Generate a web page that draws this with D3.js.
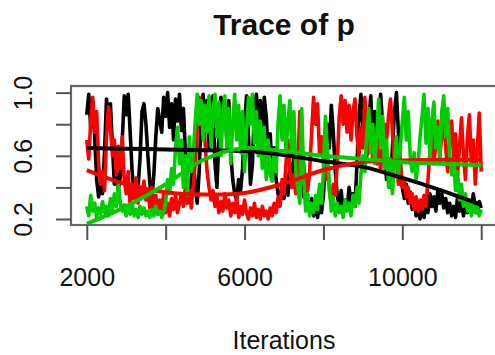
<!DOCTYPE html>
<html>
<head>
<meta charset="utf-8">
<script src="https://cdn.jsdelivr.net/npm/d3@7"></script>
<style>
  body { margin: 0; background: #fff; }
  text { font-family: "Liberation Sans", Arial, Helvetica, sans-serif; fill: #111; }
</style>
</head>
<body>
<div id="chart"></div>
<script>
'use strict';

// chain draws, one value every 50 iterations from 2000 to 12000
var iterStart = 2000;
var iterStep = 50;

var chainBlack = [
  0.86,0.99,0.78,0.95,0.72,0.45,0.34,0.42,0.36,0.62,0.96,0.84,0.93,0.66,0.42,0.52,0.38,0.47,0.70,0.98,
  0.86,0.99,0.75,0.50,0.36,0.45,0.40,0.58,0.88,0.93,0.80,0.60,0.42,0.33,0.48,0.72,0.90,0.82,0.75,0.97,
  0.85,1.00,0.78,0.93,0.70,0.96,0.82,0.99,0.76,0.90,0.62,0.40,0.32,0.45,0.58,0.42,0.30,0.50,0.85,0.99,
  0.78,0.95,0.65,0.88,0.98,0.55,0.40,0.72,0.97,0.80,0.93,0.70,0.95,0.62,0.45,0.36,0.32,0.45,0.38,0.52,
  0.80,0.98,0.72,0.42,0.55,0.90,0.99,0.82,0.95,0.70,0.97,0.85,0.60,0.74,0.50,0.65,0.45,0.36,0.30,0.42,
  0.33,0.48,0.35,0.55,0.40,0.62,0.50,0.38,0.60,0.45,0.34,0.42,0.30,0.25,0.33,0.22,0.28,0.21,0.30,0.24,
  0.35,0.55,0.80,0.65,0.92,0.75,0.50,0.35,0.28,0.38,0.24,0.32,0.26,0.40,0.30,0.36,0.28,0.55,0.85,0.99,
  0.78,0.92,0.60,0.82,0.98,0.70,0.88,0.55,0.75,0.99,0.80,0.62,0.45,0.58,0.40,0.65,0.88,1.00,0.75,0.55,
  0.40,0.33,0.42,0.30,0.37,0.26,0.33,0.22,0.28,0.20,0.26,0.21,0.30,0.24,0.36,0.28,0.34,0.25,0.38,0.30,
  0.36,0.27,0.33,0.24,0.30,0.22,0.28,0.21,0.34,0.25,0.31,0.22,0.29,0.24,0.32,0.26,0.36,0.28,0.24,0.31,0.27
];

var chainRed = [
  0.70,0.58,0.82,0.97,0.75,0.88,0.55,0.42,0.50,0.38,0.72,0.91,0.78,0.60,0.70,0.48,0.66,0.52,0.72,0.44,
  0.36,0.50,0.28,0.42,0.33,0.46,0.30,0.40,0.34,0.44,0.32,0.38,0.27,0.40,0.25,0.35,0.23,0.32,0.26,0.36,
  0.24,0.30,0.22,0.33,0.26,0.35,0.24,0.30,0.36,0.28,0.40,0.30,0.38,0.27,0.42,0.55,0.75,0.97,0.80,0.92,
  0.68,0.50,0.40,0.32,0.38,0.28,0.34,0.24,0.31,0.25,0.36,0.27,0.32,0.22,0.30,0.24,0.34,0.21,0.28,0.23,
  0.32,0.24,0.20,0.27,0.22,0.30,0.21,0.26,0.20,0.28,0.22,0.25,0.20,0.27,0.22,0.30,0.24,0.34,0.28,0.45,
  0.36,0.55,0.70,0.50,0.40,0.48,0.36,0.52,0.88,0.70,0.55,0.42,0.38,0.50,0.75,0.97,0.80,0.93,0.62,0.72,
  0.55,0.45,0.60,0.38,0.30,0.42,0.35,0.55,0.85,0.98,0.80,0.95,0.75,0.92,0.70,0.88,0.96,0.72,0.60,0.78,
  0.65,0.97,0.80,0.62,0.75,0.58,0.70,0.55,0.68,0.50,0.72,0.80,0.70,0.85,0.96,0.75,0.55,0.62,0.42,0.55,
  0.40,0.45,0.34,0.40,0.30,0.36,0.26,0.34,0.25,0.32,0.26,0.35,0.28,0.45,0.62,0.75,0.55,0.68,0.82,0.60,
  0.72,0.85,0.65,0.50,0.70,0.82,0.58,0.74,0.48,0.66,0.84,0.60,0.45,0.72,0.86,0.55,0.70,0.42,0.64,0.87,0.50
];

var chainGreen = [
  0.28,0.22,0.35,0.25,0.30,0.21,0.27,0.23,0.31,0.24,0.28,0.22,0.33,0.26,0.36,0.28,0.42,0.30,0.25,0.29,
  0.22,0.27,0.23,0.30,0.22,0.26,0.21,0.28,0.23,0.27,0.22,0.25,0.21,0.26,0.22,0.28,0.23,0.25,0.21,0.24,
  0.30,0.45,0.36,0.52,0.42,0.65,0.78,0.55,0.70,0.40,0.60,0.35,0.72,0.50,0.62,0.82,0.99,0.80,0.95,0.70,
  0.92,0.75,0.98,0.66,0.88,0.99,0.72,0.94,0.60,0.85,0.98,0.65,0.90,0.55,0.80,0.99,0.70,0.92,0.62,0.88,
  0.50,0.75,0.97,0.80,0.99,0.68,0.88,0.60,0.82,0.52,0.78,0.45,0.70,0.48,0.44,0.62,0.50,0.80,0.98,0.70,
  0.92,0.62,0.82,0.95,0.60,0.88,0.50,0.40,0.30,0.90,0.45,0.25,0.36,0.22,0.30,0.24,0.35,0.26,0.42,0.30,
  0.50,0.85,0.65,0.40,0.25,0.34,0.22,0.30,0.24,0.28,0.21,0.32,0.25,0.30,0.22,0.35,0.28,0.40,0.30,0.48,
  0.60,0.50,0.75,0.90,0.62,0.80,0.55,0.72,0.96,0.65,0.85,0.52,0.70,0.40,0.58,0.36,0.55,0.72,0.48,0.65,
  0.82,0.97,0.70,0.88,0.60,0.50,0.62,0.45,0.55,0.72,0.85,0.99,0.68,0.90,0.58,0.82,0.94,0.65,0.78,0.55,
  0.88,0.98,0.72,0.90,0.60,0.48,0.58,0.38,0.50,0.32,0.42,0.28,0.36,0.25,0.32,0.22,0.30,0.24,0.28,0.22,0.26
];

// smoothed (lowess-like) lines
var smoothIter  = [2000, 3000, 4000, 5000, 6000, 7000, 8000, 9000, 10000, 11000, 12000];
var smoothBlack = [0.65, 0.645, 0.64, 0.635, 0.63, 0.605, 0.565, 0.53, 0.46, 0.38, 0.29];
var smoothRed   = [0.51, 0.42, 0.37, 0.355, 0.365, 0.425, 0.51, 0.56, 0.57, 0.575, 0.575];
var smoothGreen = [0.17, 0.28, 0.42, 0.58, 0.65, 0.63, 0.60, 0.58, 0.56, 0.55, 0.54];

var xTicks = [2000, 4000, 6000, 8000, 10000, 12000];
var xLabels = [2000, 6000, 10000];
var yTicks = [0.2, 0.4, 0.6, 0.8, 1.0];
var yLabels = [0.2, 0.6, 1.0];

var chains = [
  {values: chainBlack, smooth: smoothBlack, color: "#000000"},
  {values: chainRed, smooth: smoothRed, color: "#ff0000"},
  {values: chainGreen, smooth: smoothGreen, color: "#00cd00"}
];

var width = 495, height = 355;
var plot = {left: 71, right: 497, top: 86, bottom: 225};

var svg = d3.select("#chart").append("svg")
            .attr("width", width)
            .attr("height", height);

var x = d3.scaleLinear().domain([1600, 12400]).range([plot.left, plot.right]);
var y = d3.scaleLinear().domain([0.162, 1.042]).range([plot.bottom, plot.top]);

var defs = svg.append("defs");
defs.append("clipPath").attr("id", "clip")
    .append("rect")
    .attr("x", plot.left).attr("y", plot.top)
    .attr("width", plot.right - plot.left).attr("height", plot.bottom - plot.top);

// the reference is a soft, upscaled png: a slight blur gets closer to it
defs.append("filter").attr("id", "soft")
    .append("feGaussianBlur").attr("stdDeviation", 0.6);

var traceLine = d3.line()
                  .x((d, i) => x(iterStart + i * iterStep))
                  .y(d => y(d));

var g = svg.append("g")
           .attr("clip-path", "url(#clip)")
           .append("g")
           .attr("filter", "url(#soft)");

// raw traces first, then the smooth lines on top
chains.forEach(c => {
    g.append("path")
     .datum(c.values)
     .attr("d", traceLine)
     .attr("fill", "none")
     .attr("stroke", c.color)
     .attr("stroke-width", 3.6)
     .attr("stroke-linejoin", "round");
});

var smoothLine = d3.line()
                   .x((d, i) => x(smoothIter[i]))
                   .y(d => y(d))
                   .curve(d3.curveCatmullRom);

chains.forEach(c => {
    g.append("path")
     .datum(c.smooth)
     .attr("d", smoothLine)
     .attr("fill", "none")
     .attr("stroke", c.color)
     .attr("stroke-width", 4);
});

// box
svg.append("rect")
   .attr("x", plot.left).attr("y", plot.top)
   .attr("width", plot.right - plot.left).attr("height", plot.bottom - plot.top)
   .attr("fill", "none")
   .attr("stroke", "#666")
   .attr("stroke-width", 2.2);

// x axis, R style: ticks everywhere, labels only where they fit
var xAxis = d3.axisBottom(x)
              .tickValues(xTicks)
              .tickSize(15)
              .tickFormat(d => xLabels.indexOf(d) >= 0 ? d : "");
var gx = svg.append("g")
            .attr("transform", "translate(0," + plot.bottom + ")")
            .call(xAxis);
gx.select(".domain").remove();
gx.selectAll("line").attr("stroke", "#555").attr("stroke-width", 2);
gx.selectAll("text")
  .attr("font-size", 25)
  .attr("fill", "#222")
  .attr("y", 43)
  .attr("dy", "0.71em");

var yAxis = d3.axisLeft(y)
              .tickValues(yTicks)
              .tickSize(15)
              .tickFormat(d => yLabels.indexOf(d) >= 0 ? d3.format(".1f")(d) : "");
var gy = svg.append("g")
            .attr("transform", "translate(" + plot.left + ",0)")
            .call(yAxis);
gy.select(".domain").remove();
gy.selectAll("line").attr("stroke", "#555").attr("stroke-width", 2);
gy.selectAll("text")
  .attr("font-size", 25)
  .attr("fill", "#222")
  .attr("x", null)
  .attr("dy", null)
  .attr("text-anchor", "middle")
  .attr("transform", "translate(-39,0) rotate(-90)");

// title and axis label
svg.append("text")
   .attr("x", (plot.left + plot.right) / 2)
   .attr("y", 35)
   .attr("text-anchor", "middle")
   .attr("font-size", 30)
   .attr("font-weight", "bold")
   .attr("fill", "#1a1a1a")
   .text("Trace of p");

svg.append("text")
   .attr("x", (plot.left + plot.right) / 2)
   .attr("y", 349)
   .attr("text-anchor", "middle")
   .attr("font-size", 25)
   .attr("fill", "#222")
   .text("Iterations");
</script>
</body>
</html>
